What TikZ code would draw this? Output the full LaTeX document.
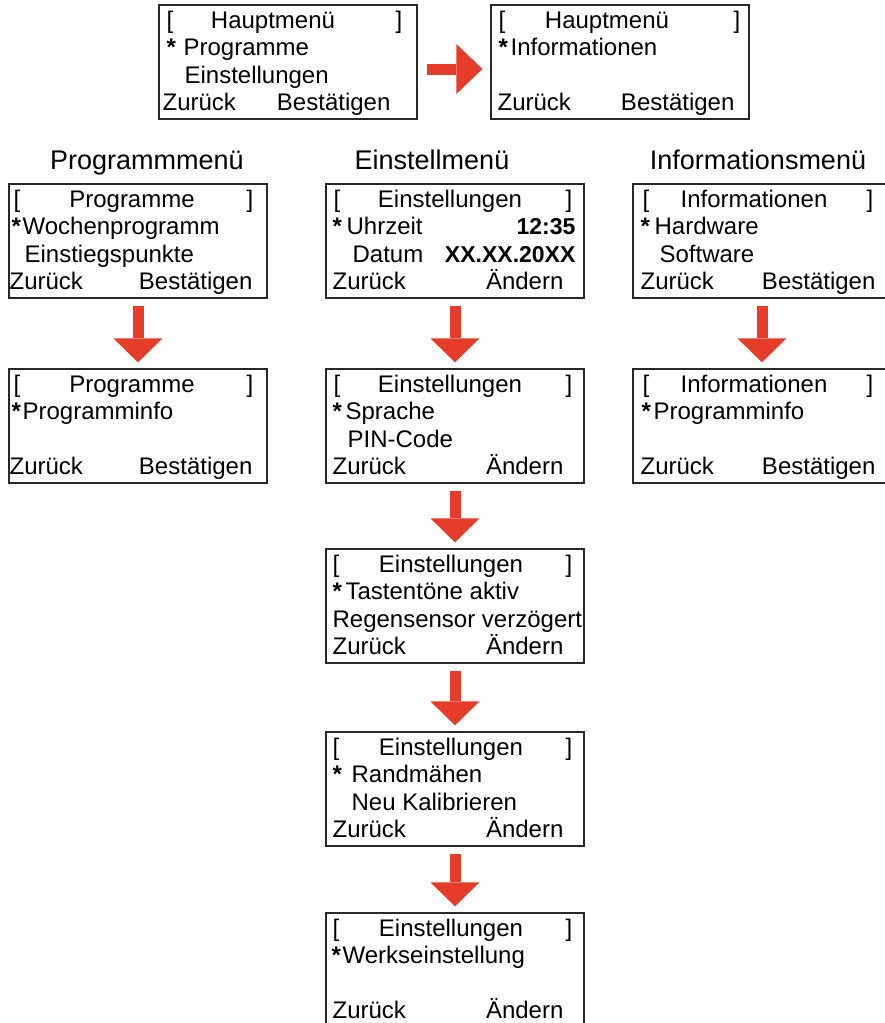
\documentclass[tikz,border=0pt]{standalone}
\usepackage{fontspec}
\setmainfont{Liberation Sans}
\usetikzlibrary{arrows.meta,calc}
\definecolor{arrowred}{RGB}{230,60,42}
\definecolor{framec}{RGB}{40,40,40}
\newcounter{tn}
\newcommand\TL[4]{\stepcounter{tn}\edef\tnm{t\arabic{tn}}\node[txt,anchor=base west] (\tnm) at ($(#1.north west)+(#2,#3)$) {#4};}
\newcommand\TR[4]{\stepcounter{tn}\edef\tnm{t\arabic{tn}}\node[txt,anchor=base east] (\tnm) at ($(#1.north east)+(#2,#3)$) {#4};}
\newcommand\TC[4]{\stepcounter{tn}\edef\tnm{t\arabic{tn}}\node[txt,anchor=base] (\tnm) at ($(#1.north)+(#2,#3)$) {#4};}
\newcommand\VR[4]{\stepcounter{tn}\edef\tnm{t\arabic{tn}}\node[val,anchor=base east] (\tnm) at ($(#1.north east)+(#2,#3)$) {#4};}
\newcommand\AST[3]{\stepcounter{tn}\edef\tnm{t\arabic{tn}}\node[ast,anchor=base west] (\tnm) at ($(#1.north west)+(#2,#3)$) {*};}
\begin{document}
\begin{tikzpicture}[x=1pt,y=-1pt,
  screen/.style={draw=framec, line width=1.2pt, minimum width=258pt, minimum height=114pt, inner sep=0pt},
  txt/.style={inner sep=0pt, font=\fontsize{24}{28}\selectfont},
  ast/.style={inner sep=0pt, font=\fontsize{24}{28}\selectfont\bfseries},
  val/.style={inner sep=0pt, font=\fontsize{23}{28}\selectfont\bfseries},
  head/.style={inner sep=0pt, font=\fontsize{27}{30}\selectfont},
  redarrow/.style={draw=arrowred, line width=11pt, -{Triangle[width=49pt,length=24pt,line width=0pt]}, shorten <=7pt, shorten >=6pt},
  harrow/.style={draw=arrowred, line width=11pt, -{Triangle[width=50pt,length=26pt,line width=0pt]}, shorten <=9pt, shorten >=8pt}]
\useasboundingbox (0,0) rectangle (885,1023);
\clip (0,0) rectangle (885,1023);

% screens
\node[screen] (hm1) at (288,62) {};
\node[screen] (hm2) at (620,62) {};
\node[screen] (p1) at (138,241) {};
\node[screen] (e1) at (455,241) {};
\node[screen] (i1) at (762,241) {};
\node[screen] (p2) at (138,426) {};
\node[screen] (e2) at (455,426) {};
\node[screen] (i2) at (762,426) {};
\node[screen] (e3) at (455,606) {};
\node[screen] (e4) at (455,789) {};
\node[screen] (e5) at (455,970) {};

% headings
\node[head,anchor=base] (hp) at (147,169) {Programmmenü};
\node[head,anchor=base] (he) at (432,169) {Einstellmenü};
\node[head,anchor=base] (hi) at (758,169) {Informationsmenü};

% hm1
\TL{hm1}{8}{24}{[}
\TC{hm1}{-15}{24}{Hauptmenü}
\TR{hm1}{-15}{24}{]}
\AST{hm1}{8}{51.5}
\TL{hm1}{25}{51.5}{Programme}
\TL{hm1}{26}{79}{Einstellungen}
\TL{hm1}{4}{106.5}{Zurück}
\TR{hm1}{-27}{106.5}{Bestätigen}

% hm2
\TL{hm2}{8}{24}{[}
\TC{hm2}{-13}{24}{Hauptmenü}
\TR{hm2}{-9}{24}{]}
\AST{hm2}{8}{51.5}
\TL{hm2}{20}{51.5}{Informationen}
\TL{hm2}{7}{106.5}{Zurück}
\TR{hm2}{-15}{106.5}{Bestätigen}

% p1
\TL{p1}{5}{24}{[}
\TC{p1}{-6}{24}{Programme}
\TR{p1}{-14}{24}{]}
\AST{p1}{3}{51.5}
\TL{p1}{14}{51.5}{Wochenprogramm}
\TL{p1}{16}{79}{Einstiegspunkte}
\TL{p1}{1}{106.5}{Zurück}
\TR{p1}{-15}{106.5}{Bestätigen}

% e1
\TL{e1}{8}{24}{[}
\TC{e1}{-5}{24}{Einstellungen}
\TR{e1}{-12}{24}{]}
\AST{e1}{7}{51.5}
\TL{e1}{21}{51.5}{Uhrzeit}
\VR{e1}{-9}{51.5}{12:35}
\TL{e1}{27}{79}{Datum}
\VR{e1}{-9}{79}{XX.XX.20XX}
\TL{e1}{7}{106.5}{Zurück}
\TR{e1}{-21}{106.5}{Ändern}

% i1
\TL{i1}{10}{24}{[}
\TC{i1}{-8}{24}{Informationen}
\TR{i1}{-18}{24}{]}
\AST{i1}{8}{51.5}
\TL{i1}{22}{51.5}{Hardware}
\TL{i1}{27}{79}{Software}
\TL{i1}{8}{106.5}{Zurück}
\TR{i1}{-16}{106.5}{Bestätigen}

% p2
\TL{p2}{5}{24}{[}
\TC{p2}{-6}{24}{Programme}
\TR{p2}{-14}{24}{]}
\AST{p2}{3}{51.5}
\TL{p2}{14}{51.5}{Programminfo}
\TL{p2}{1}{106.5}{Zurück}
\TR{p2}{-15}{106.5}{Bestätigen}

% e2
\TL{e2}{8}{24}{[}
\TC{e2}{-5}{24}{Einstellungen}
\TR{e2}{-12}{24}{]}
\AST{e2}{7}{51.5}
\TL{e2}{20}{51.5}{Sprache}
\TL{e2}{22}{79}{PIN-Code}
\TL{e2}{7}{106.5}{Zurück}
\TR{e2}{-21}{106.5}{Ändern}

% i2
\TL{i2}{10}{24}{[}
\TC{i2}{-8}{24}{Informationen}
\TR{i2}{-18}{24}{]}
\AST{i2}{9}{51.5}
\TL{i2}{21}{51.5}{Programminfo}
\TL{i2}{8}{106.5}{Zurück}
\TR{i2}{-16}{106.5}{Bestätigen}

% e3
\TL{e3}{7}{24}{[}
\TC{e3}{-4}{24}{Einstellungen}
\TR{e3}{-12}{24}{]}
\AST{e3}{7}{51.5}
\TL{e3}{20}{51.5}{Tastentöne aktiv}
\TL{e3}{7}{79}{Regensensor verzögert}
\TL{e3}{7}{106.5}{Zurück}
\TR{e3}{-21}{106.5}{Ändern}

% e4
\TL{e4}{7}{24}{[}
\TC{e4}{-4}{24}{Einstellungen}
\TR{e4}{-12}{24}{]}
\AST{e4}{7}{51.5}
\TL{e4}{26}{51.5}{Randmähen}
\TL{e4}{26}{79}{Neu Kalibrieren}
\TL{e4}{7}{106.5}{Zurück}
\TR{e4}{-21}{106.5}{Ändern}

% e5
\TL{e5}{7}{24}{[}
\TC{e5}{-4}{24}{Einstellungen}
\TR{e5}{-12}{24}{]}
\AST{e5}{6}{51.5}
\TL{e5}{17}{51.5}{Werkseinstellung}
\TL{e5}{7}{106}{Zurück}
\TR{e5}{-21}{106}{Ändern}

% arrows
\draw[harrow] ([yshift=-7pt]hm1.east) -- ([yshift=-7pt]hm2.west);
\draw[redarrow] (p1.south) -- (p2.north);
\draw[redarrow] (e1.south) -- (e2.north);
\draw[redarrow] (i1.south) -- (i2.north);
\draw[redarrow] (e2.south) -- (e3.north);
\draw[redarrow] (e3.south) -- (e4.north);
\draw[redarrow] (e4.south) -- (e5.north);
\end{tikzpicture}
\end{document}
